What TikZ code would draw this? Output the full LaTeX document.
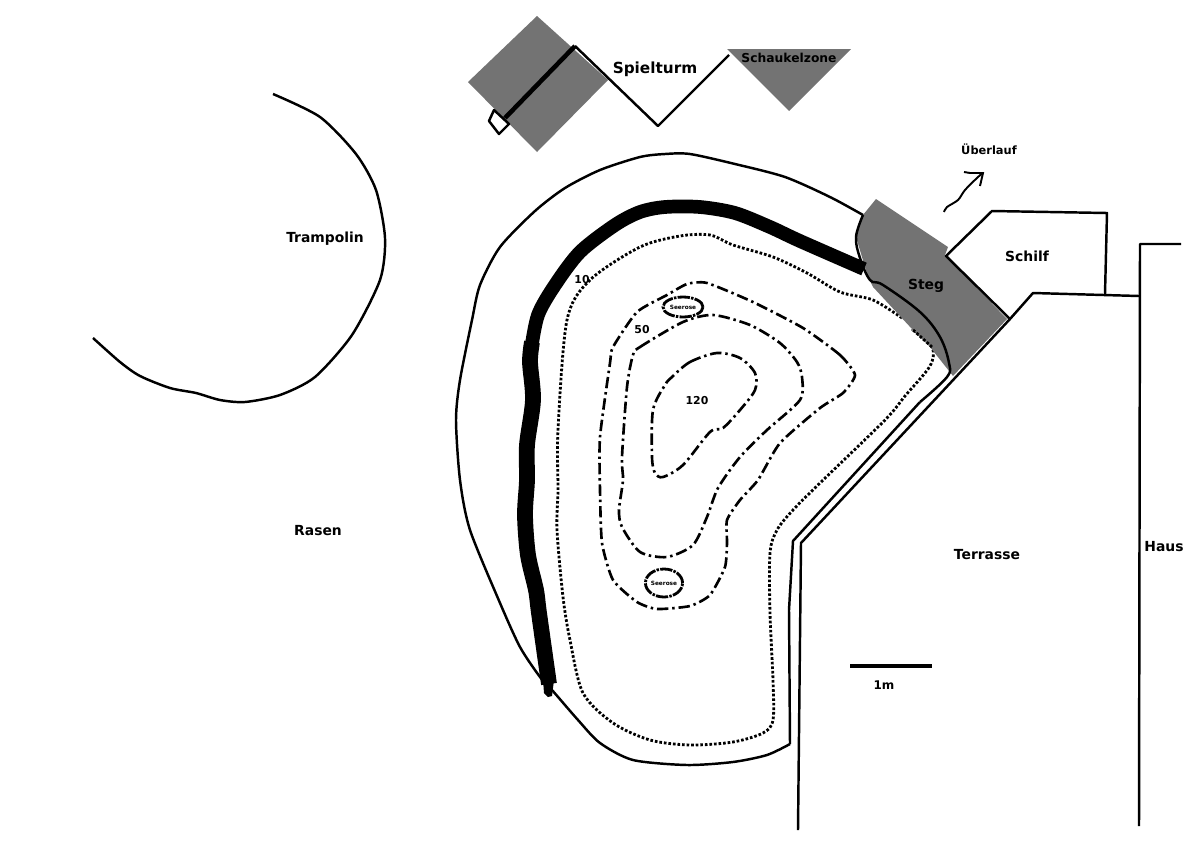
\documentclass[tikz,border=0pt]{standalone}
\usepackage{fontspec}
\setmainfont{DejaVu Sans}
\usetikzlibrary{shapes.geometric}
\definecolor{zonegray}{HTML}{737373}
\tikzset{
    outline/.style={line width=1.4pt,line join=round},
    zone/.style={fill=zonegray,draw=none},
    depthdots/.style={line width=1.6pt,dash pattern=on 1.5pt off 1.1pt},
    depthline/.style={line width=1.5pt,dash pattern=on 6.5pt off 2.2pt on 1.4pt off 2.2pt},
    lbl/.style={font=\bfseries\fontsize{#1}{#1}\selectfont,inner sep=0pt},
    seerose/.style={draw,ellipse,line width=1.6pt,inner sep=0pt,dash pattern=on 7pt off .7pt on 1.4pt off .7pt,font=\fontsize{3.3}{3.3}\selectfont\bfseries}
}
\begin{document}
\begin{tikzpicture}[x=0.02cm,y=-0.02cm]
        \useasboundingbox (0,0) rectangle (1201,866);
        %% Zones
        \path[zone] (537,16) -- (608,80) -- (537,152) -- (468,82) -- cycle;
        \path[zone] (727,49) -- (851,49) -- (789,111) -- cycle;
        %% Depth line under the jetty
        \draw[depthdots] plot[smooth,tension=.5] coordinates {(902,318) (873,300) (840,292) (807,273) (773,257) (733,245) (710,235) (680,236) (640,247) (590,280) (567,320) (558,430) (558,490) (557,530) (563,597) (570,640) (583,693) (613,723) (650,740) (690,745) (733,742) (763,733) (773,720) (773,680) (770,613) (770,553) (777,530) (793,510) (820,483) (885,420) (905,396) (930,366) (932,347) (912,329)};
        %% Jetty
        \path[zone] (876,199) -- (948,247) -- (945,255) -- (1007,319) -- (953,376) -- (930,347) -- (912,329) -- (873,287) -- (868,277) -- (856,237) -- (863,215) -- cycle;
        \draw[depthdots] (932,347) -- (912,329);
        %% Climbing frame
        \draw[line width=2.6pt] (505,118) -- (575,46);
        \draw[outline] (575,46) -- (658,126) -- (729,55);
        \draw[outline,fill=white] (494,110) -- (489,121) -- (499,134) -- (509,124) -- cycle;
        %% Trampoline
        \draw[outline] plot[smooth,tension=.45] coordinates {(273,94) (320,117) (356,154) (376,190) (385,238) (380,280) (352,335) (315,377) (280,395) (245,402) (220,400) (196,393) (170,388) (140,376) (120,362) (93,338)};
        %% Pond
        \draw[outline] plot[smooth,tension=.45] coordinates {(863,215) (830,197) (785,177) (735,164) (690,154) (665,154) (640,157) (600,170) (565,188) (535,211) (500,247) (480,285) (472,320) (460,380) (456,420) (460,480) (470,530) (500,603) (520,647) (540,677) (552,690) (578,720) (600,743) (633,760) (687,765) (733,762) (767,755) (790,744)};
        \draw[outline] (790,744) -- (789,610) -- (793,541) -- (920,402);
        \draw[outline] plot[smooth,tension=.6] coordinates {(920,402) (947,377) (949,363) (940,337) (920,312) (883,285) (870,280) (860,258) (856,237) (863,215)};
        %% Wall
        \draw[line width=7.8pt] plot[smooth,tension=.5] coordinates {(864,269) (800,241) (770,227) (735,213) (700,207) (665,207) (640,212) (615,225) (580,252) (555,285) (538,315) (531,350)};
        \draw[line width=9pt] plot[smooth,tension=.5] coordinates {(532,342) (530,362) (533,400) (527,445) (527,480) (525,515) (528,555) (536,590) (539,613) (549,684)};
        \fill (543,680) -- (544,693) -- (548,697) -- (552,696) -- (554,680) -- cycle;
        %% Depth lines
        \draw[depthline] plot[smooth cycle,tension=.5] coordinates {(672,377) (690,362) (717,353) (740,358) (755,373) (755,390) (740,410) (723,428) (710,432) (683,465) (663,477) (655,473) (652,457) (653,410) (665,385)};
        \draw[depthline] plot[smooth cycle,tension=.45] coordinates {(633,355) (640,347) (683,322) (713,315) (750,325) (780,343) (797,362) (802,377) (800,400) (767,430) (740,457) (718,488) (707,517) (693,545) (667,557) (640,552) (622,527) (619,510) (623,480) (622,457) (627,387)};
        \draw[depthline] plot[smooth cycle,tension=.35] coordinates {(855,375) (840,355) (803,328) (753,302) (707,283) (687,284) (667,295) (637,312) (613,347) (610,363) (600,437) (600,490) (602,543) (613,580) (637,602) (657,609) (690,606) (710,595) (725,567) (727,543) (727,520) (740,500) (758,480) (780,443) (820,408) (843,393)};
        %% Water lilies
        \node[seerose,minimum width=.8cm,minimum height=.4cm] (lilyA) at (683,307) {Seerose};
        \node[seerose,minimum width=.74cm,minimum height=.56cm] (lilyB) at (664,583) {Seerose};
        %% Terrace, reed and house
        \draw[outline] (798,830) -- (801,543) -- (1010,319) -- (1033,293) -- (1139,296);
        \draw[outline] (1010,319) -- (946,256) -- (992,211) -- (1107,213) -- (1105,294);
        \draw[outline] (1139,826) -- (1140,244) -- (1181,244);
        %% Overflow
        \draw[line width=1.1pt,line join=round] plot[smooth,tension=.5] coordinates {(944,212) (947,207) (958,200) (965,190) (978,177) (983,173)};
        \draw[line width=1.1pt] (964,172) -- (970,173) -- (983,173) -- (980,186);
        %% Scale
        \draw[line width=2pt] (850,666) -- (932,666);
        %% Labels
        \node[lbl=7.9] (trampolin) at (325,239) {Trampolin};
        \node[lbl=8.7] (spielturm) at (655,69) {Spielturm};
        \node[lbl=7] (schaukel) at (789,58) {Schaukelzone};
        \node[lbl=6.5] (ueberlauf) at (989,149) {Überlauf};
        \node[lbl=7.9] (schilf) at (1027,256) {Schilf};
        \node[lbl=7.9] (steg) at (926,286) {Steg};
        \node[lbl=7.9] (haus) at (1164,547) {Haus};
        \node[lbl=7.9] (terrasse) at (987,555) {Terrasse};
        \node[lbl=7.9] (rasen) at (318,531) {Rasen};
        \node[lbl=6.2] (tiefeA) at (582,280) {10};
        \node[lbl=6.2] (tiefeB) at (642,330) {50};
        \node[lbl=6.2] (tiefeC) at (697,401) {120};
        \node[lbl=6.8] (meter) at (884,685) {1m};
\end{tikzpicture}
\end{document}
